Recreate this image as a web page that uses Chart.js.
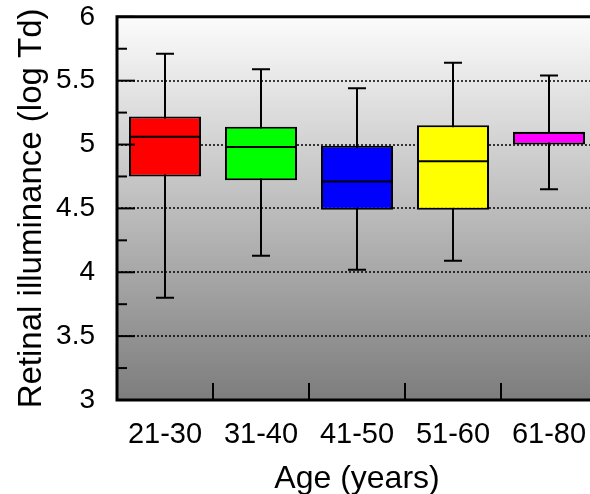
<!DOCTYPE html>
<html>
<head>
<meta charset="utf-8">
<script src="https://cdn.jsdelivr.net/npm/chart.js@4.4.0/dist/chart.umd.min.js"></script>
<style>
  html, body { margin: 0; padding: 0; background: #fff; overflow: hidden; }
  canvas { display: block; }
</style>
</head>
<body>
<canvas id="boxChart" width="600" height="494"></canvas>
<script>
// Retinal illuminance by age group, box plot

const categories = ['21-30', '31-40', '41-50', '51-60', '61-80'];
const whiskerLow = [3.80, 4.13, 4.02, 4.09, 4.65];
const q1 = [4.75, 4.72, 4.49, 4.49, 5.00];
const medians = [5.06, 4.98, 4.71, 4.87, 5.09];
const q3 = [5.22, 5.14, 4.99, 5.15, 5.10];
const whiskerHigh = [5.71, 5.59, 5.44, 5.64, 5.54];
const boxColors = ['#ff0000', '#00ff00', '#0000ff', '#ffff00', '#ff00ff'];
const yTicks = [3, 3.5, 4, 4.5, 5, 5.5, 6];

const FONT = 'Liberation Sans, Arial, sans-serif';

// background, grid, whiskers, medians and the frame
const boxPlotPlugin = {
  id: 'boxPlot',
  beforeDatasetsDraw(chart) {
    const { ctx, chartArea: a } = chart;
    const y = chart.scales.y;
    const x = chart.scales.x;
    ctx.save();
    const grad = ctx.createLinearGradient(0, a.top, 0, a.bottom);
    grad.addColorStop(0, '#fcfcfc');
    grad.addColorStop(1, '#7d7d7d');
    ctx.fillStyle = grad;
    ctx.fillRect(a.left, a.top, a.right - a.left, a.bottom - a.top);

    // dotted grid lines
    ctx.strokeStyle = '#000';
    ctx.lineWidth = 1.5;
    ctx.setLineDash([2, 2]);
    yTicks.forEach(v => {
      if (v === y.min || v === y.max) return;
      const py = Math.round(y.getPixelForValue(v));
      ctx.beginPath();
      ctx.moveTo(a.left, py);
      ctx.lineTo(a.right, py);
      ctx.stroke();
    });
    ctx.setLineDash([]);

    // whiskers
    ctx.lineWidth = 2;
    categories.forEach((c, i) => {
      const px = Math.round(x.getPixelForValue(i));
      const top = y.getPixelForValue(whiskerHigh[i]);
      const bot = y.getPixelForValue(whiskerLow[i]);
      ctx.beginPath();
      ctx.moveTo(px, top);
      ctx.lineTo(px, bot);
      ctx.moveTo(px - 9, top);
      ctx.lineTo(px + 9, top);
      ctx.moveTo(px - 9, bot);
      ctx.lineTo(px + 9, bot);
      ctx.stroke();
    });
    ctx.restore();
  },
  afterDatasetsDraw(chart) {
    const { ctx, chartArea: a } = chart;
    const y = chart.scales.y;
    const x = chart.scales.x;
    const meta = chart.getDatasetMeta(0);
    ctx.save();
    ctx.strokeStyle = '#000';

    // medians
    ctx.lineWidth = 2;
    meta.data.forEach((bar, i) => {
      const half = bar.width / 2;
      const py = y.getPixelForValue(medians[i]);
      ctx.beginPath();
      ctx.moveTo(bar.x - half, py);
      ctx.lineTo(bar.x + half, py);
      ctx.stroke();
    });

    // y ticks inside the plot, major and minor
    for (let i = 0; i < yTicks.length; i++) {
      const py = y.getPixelForValue(yTicks[i]);
      ctx.beginPath();
      ctx.moveTo(a.left, py);
      ctx.lineTo(a.left + 18, py);
      ctx.stroke();
      if (i < yTicks.length - 1) {
        const pm = y.getPixelForValue((yTicks[i] + yTicks[i + 1]) / 2);
        ctx.beginPath();
        ctx.moveTo(a.left, pm);
        ctx.lineTo(a.left + 10, pm);
        ctx.stroke();
      }
    }

    // x ticks between categories
    for (let i = 0; i < categories.length - 1; i++) {
      const px = Math.round((x.getPixelForValue(i) + x.getPixelForValue(i + 1)) / 2);
      ctx.beginPath();
      ctx.moveTo(px, a.bottom);
      ctx.lineTo(px, a.bottom - 17);
      ctx.stroke();
    }

    // frame: left, top, bottom
    ctx.lineWidth = 3;
    ctx.beginPath();
    ctx.moveTo(a.right, a.top);
    ctx.lineTo(a.left, a.top);
    ctx.lineTo(a.left, a.bottom);
    ctx.lineTo(a.right, a.bottom);
    ctx.stroke();
    ctx.restore();
  }
};

new Chart(document.getElementById('boxChart'), {
  type: 'bar',
  data: {
    labels: categories,
    datasets: [{
      data: categories.map((c, i) => [q1[i], q3[i]]),
      backgroundColor: boxColors,
      borderColor: '#000',
      borderWidth: 2,
      borderSkipped: false,
      barPercentage: 0.75,
      categoryPercentage: 1
    }]
  },
  options: {
    responsive: false,
    animation: false,
    layout: { padding: { top: 16, right: 3, left: 0, bottom: 0 } },
    plugins: {
      legend: { display: false },
      tooltip: { enabled: false }
    },
    scales: {
      x: {
        grid: { display: false, drawTicks: true, tickLength: 18 },
        border: { display: false },
        ticks: {
          color: '#000',
          padding: 0,
          maxRotation: 0,
          font: { family: FONT, size: 29 }
        },
        title: {
          display: true,
          text: 'Age (years)',
          color: '#000',
          padding: { top: 0, bottom: -4 },
          font: { family: FONT, size: 32 }
        },
        afterFit(scale) { scale.height = 94; }
      },
      y: {
        min: 3,
        max: 6,
        grid: { display: false, drawTicks: true, tickLength: 22 },
        border: { display: false },
        ticks: {
          stepSize: 0.5,
          color: '#000',
          padding: 0,
          font: { family: FONT, size: 28 },
          callback: v => String(v)
        },
        title: {
          display: true,
          text: 'Retinal illuminance (log Td)',
          color: '#000',
          padding: { top: 12, bottom: 0 },
          font: { family: FONT, size: 33 }
        },
        afterFit(scale) { scale.width = 117; }
      }
    }
  },
  plugins: [boxPlotPlugin]
});
</script>
</body>
</html>
